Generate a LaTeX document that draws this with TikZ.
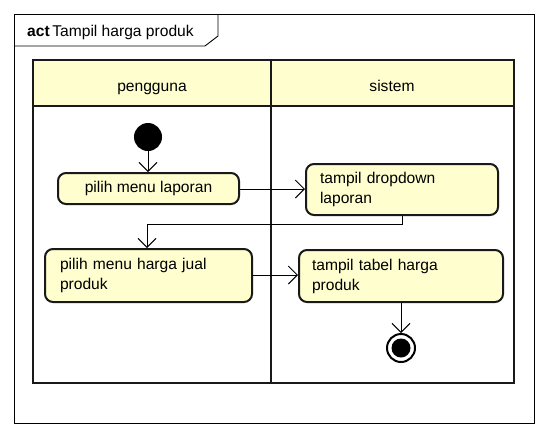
\documentclass[tikz,border=0pt]{standalone}
\usepackage{fontspec}
\setmainfont{Liberation Sans}
\usetikzlibrary{arrows.meta}
\definecolor{yel}{HTML}{FEFECE}
\begin{document}
\begin{tikzpicture}[x=1pt,y=-1pt,
  font=\fontsize{15.6}{20}\selectfont,
  lane/.style={draw=black!90, line width=2.4pt},
  actbox/.style={draw=black!90, fill=yel, rounded corners=8pt, line width=2pt, inner ysep=0pt},
  flow/.style={draw=black, line width=1pt, -{Straight Barb[length=9pt,width=18pt,line width=1pt]}},
]
\useasboundingbox (0,0) rectangle (548,437);
% outer frame
\draw[line width=0.9pt] (14,14) rectangle (534,423);
\draw[line width=0.9pt] (14,46) -- (205,46) -- (218,36) -- (218,14);
\node[anchor=base west, inner sep=0pt] (title) at (27,36) {\textbf{act}\,Tampil harga produk};
% swimlanes
\fill[yel] (33,60) rectangle (514,106);
\draw[lane] (33,60) rectangle (514,383);
\draw[lane] (33,106) -- (514,106);
\draw[lane] (271,60) -- (271,383);
\node[anchor=base] (l1) at (152,91) {pengguna};
\node[anchor=base] (l2) at (392,91) {sistem};
% initial and final
\node[circle, fill=black, minimum size=28pt, inner sep=0pt] (start) at (148,137) {};
\node[circle, draw=black, line width=2pt, fill=white, minimum size=28pt, inner sep=0pt] (stop) at (401,348) {};
\node[circle, fill=black, minimum size=19pt, inner sep=0pt] (stopin) at (401,348) {};
% actions
\node[actbox, minimum width=181pt, minimum height=31pt, align=center] (a1) at (148.5,188.5) {pilih menu laporan};
\node[actbox, minimum height=51pt, text width=164pt, inner xsep=14pt, align=left] (a2) at (402,189.5) {tampil dropdown\\laporan};
\node[actbox, minimum height=53pt, text width=177pt, inner xsep=15pt, align=left] (a3) at (148.5,275.5) {pilih menu harga jual\\produk};
\node[actbox, minimum height=52pt, text width=178pt, inner xsep=13pt, align=left] (a4) at (401,276) {tampil tabel harga\\produk};
% flows
\draw[flow] (start) -- (a1.north -| start);
\draw[flow] (a1.east |- 0,189) -- (a2.west |- 0,189);
\coordinate (k1) at (402,224);
\coordinate (k2) at (147,224);
\draw[flow] (a2.south -| k1) -- (k1) -- (k2) -- (a3.north -| k2);
\draw[flow] (a3.east |- 0,275) -- (a4.west |- 0,275);
\draw[flow] (a4.south -| stop) -- (stop.north);
\end{tikzpicture}
\end{document}
